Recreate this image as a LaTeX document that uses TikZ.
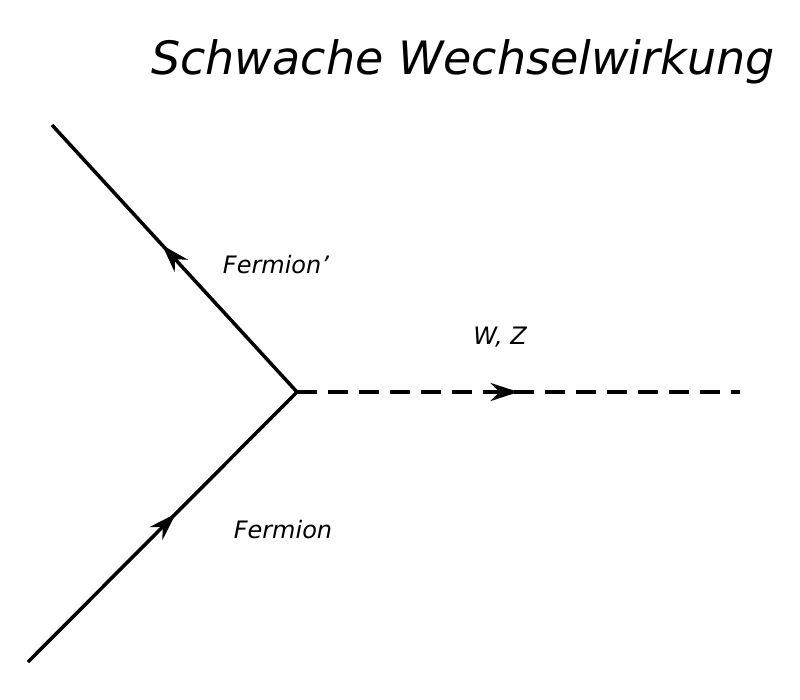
\documentclass[tikz,border=0pt]{standalone}
\usepackage{fontspec}
\setmainfont{DejaVu Sans}
\usetikzlibrary{decorations.markings,arrows.meta}
\tikzset{
  fermion/.style={line width=3.5pt,postaction={decorate},decoration={markings,mark=at position 0.55 with {\arrow{Stealth[length=28pt,width=18pt]}}}},
  boson/.style={line width=3.5pt,dash pattern=on 20pt off 11pt,postaction={decorate},decoration={markings,mark=at position 0.5 with {\arrow{Stealth[length=28pt,width=18pt]}}}},
  lbl/.style={font=\fontsize{24pt}{28pt}\selectfont\itshape}
}
\begin{document}
\begin{tikzpicture}[x=1pt,y=-1pt]
\useasboundingbox (0,0) rectangle (800,700);
\node[font=\fontsize{46pt}{52pt}\selectfont\itshape] (title) at (463,62) {Schwache Wechselwirkung};
\coordinate (v) at (297,392);
\coordinate (a) at (28,662);
\coordinate (b) at (52,125);
\coordinate (c) at (740,392);
\draw[fermion] (a) -- (v);
\draw[fermion] (v) -- (b);
\draw[boson] (v) -- (c);
\node[lbl] (f2) at (276,265) {Fermion\symbol{39}};
\node[lbl] (wz) at (500,337) {W, Z};
\node[lbl] (f1) at (283,530) {Fermion};
\end{tikzpicture}
\end{document}
